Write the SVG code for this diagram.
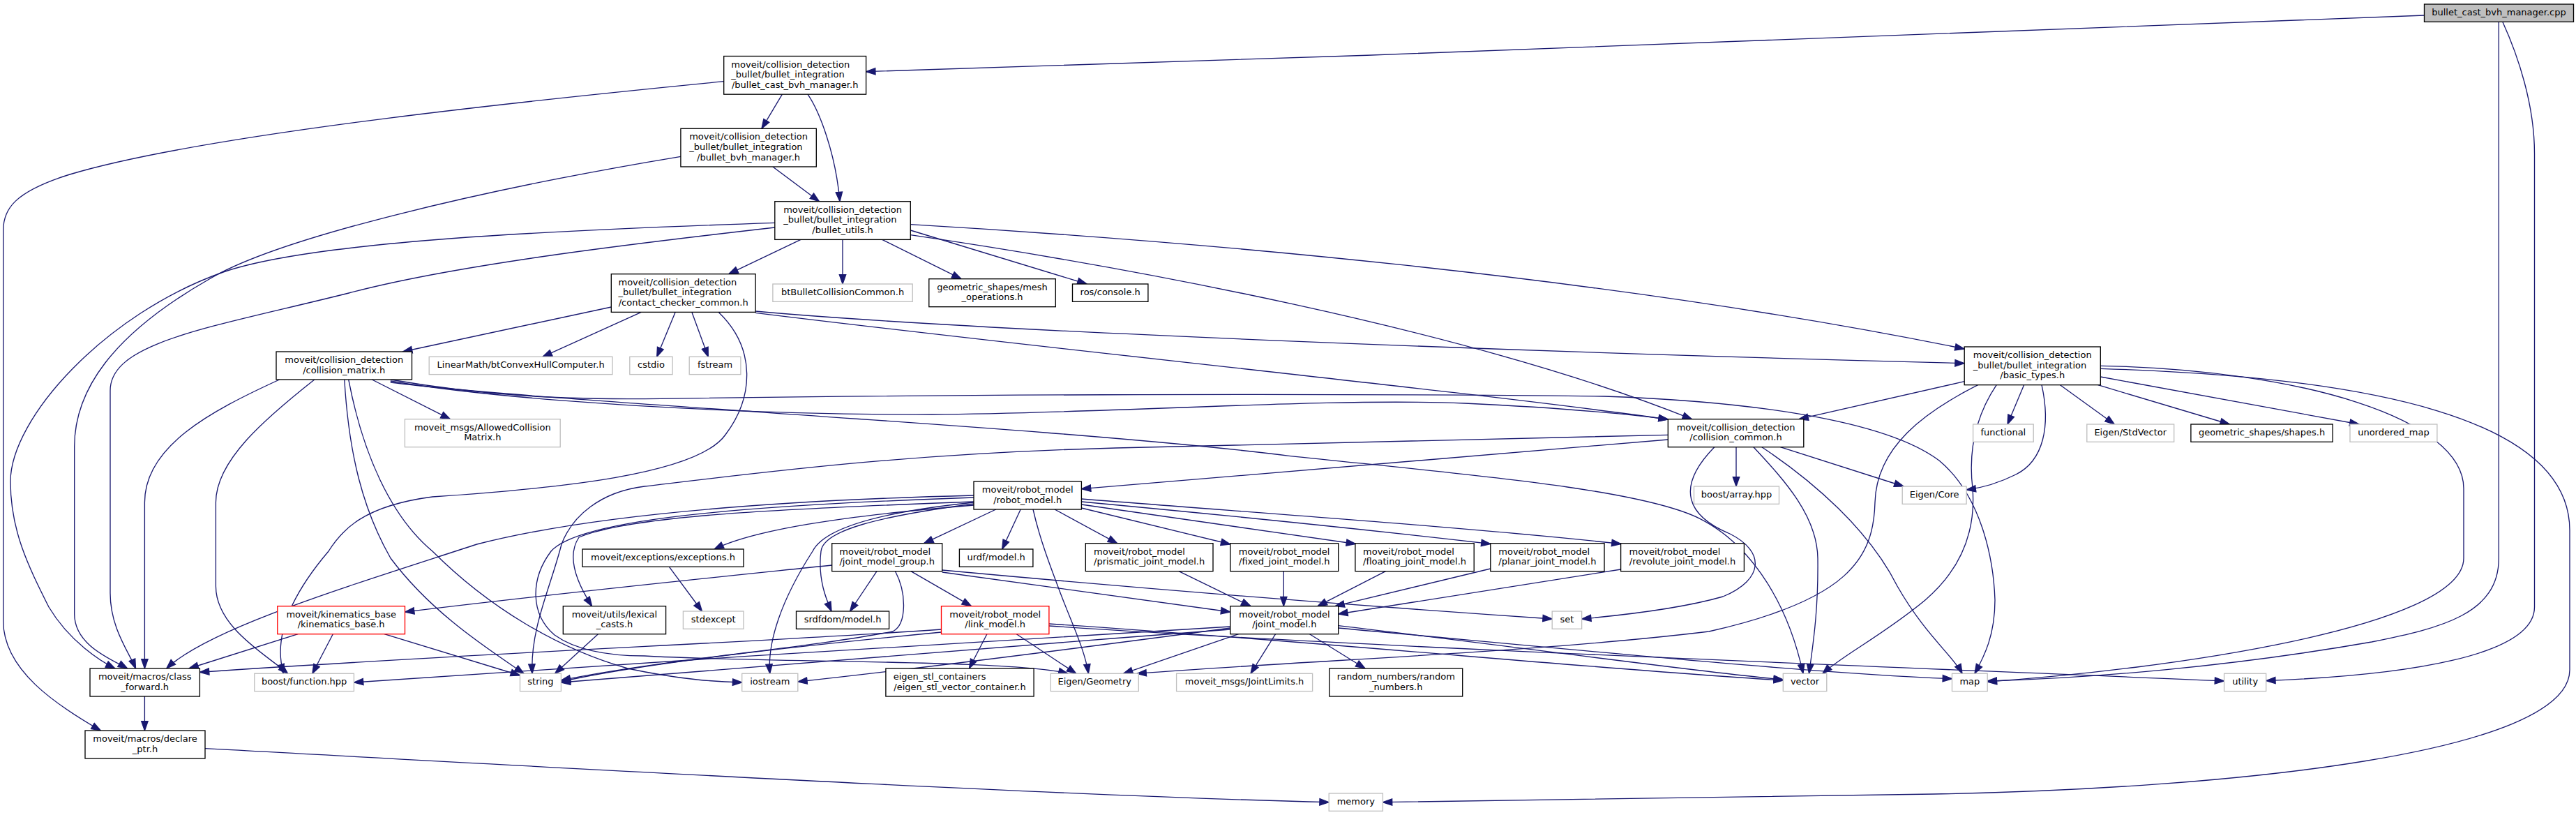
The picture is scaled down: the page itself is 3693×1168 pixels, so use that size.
<svg xmlns="http://www.w3.org/2000/svg" width="3693" height="1168" viewBox="0 0 3693 1168">
<style>
text{font-family:"DejaVu Sans",sans-serif;font-size:13px;fill:#000}
.m{text-anchor:middle}
.node rect{fill:#fff;stroke:#000;stroke-width:1.33}
.ext rect{stroke:#bfbfbf}
.red rect{stroke:#f00}
.root rect{fill:#bfbfbf}
#edges path{fill:none;stroke:#191970;stroke-width:1.33;marker-end:url(#ah)}
</style>
<defs>
<marker id="ah" markerUnits="userSpaceOnUse" markerWidth="16" markerHeight="12" viewBox="-1 -6 16 12" refX="13.3" refY="0" orient="auto"><path d="M0,-4.67 L13.33,0 L0,4.67 Z" fill="#191970" stroke="#191970" stroke-width="1.33"/></marker>
</defs>
<rect width="3693" height="1168" fill="#fff"/>
<g id="edges">
<path d="M3475.5,22 C2900,45 2000,80 1241.6,102.7"/>
<path d="M3582.3,31.3 L3582.3,800 C3582.3,880 3500,900 3400,920 C3200,955 3000,972 2849.2,976"/>
<path d="M3588,31.7 C3610,80 3633.5,150 3633.5,220 L3633.5,870 C3633.5,940 3450,968 3248.7,975.5"/>
<path d="M1121.4,135.2 L1092,184.3"/>
<path d="M1158,135.2 C1175,160 1198,220 1204,288.7"/>
<path d="M1107.9,239 L1174.5,288.7"/>
<path d="M1037.7,116.7 C800,140 300,190 100,250 C20,275 4.7,300 4.7,330 L4.7,890 C4.7,960 80,1010 144.4,1047"/>
<path d="M975.9,224.3 C700,270 400,340 300,400 C160,480 106.7,560 106.7,640 L106.7,880 C106.7,925 160,945 182.7,958"/>
<path d="M1110.8,319.3 C800,330 450,345 320,390 C150,450 15,600 15,690 C15,760 40,810 70,870 C100,920 145,948 165,958"/>
<path d="M1110.8,326 C900,350 650,380 500,420 C300,470 158,490 158,560 L158,850 C158,900 185,935 194.5,958"/>
<path d="M400.7,544 C300,590 207.4,640 207.4,720 L207.4,958"/>
<path d="M450.8,544 C380,600 309.4,660 309.4,720 L309.4,840 C309.4,900 385,940 412.5,965.3"/>
<path d="M493.8,544 C500,650 520,730 560,800 C620,880 700,930 751,965.3"/>
<path d="M499.7,544 C520,650 560,740 620,790 C700,870 800,930 900,958 C980,975 1030,977 1063.7,978"/>
<path d="M533.3,544 L645.3,600.7"/>
<path d="M559.8,544 C700,568 800,571.7 924,571.7 C1300,566 1848,562.7 2300,568 C2500,575 2700,600 2780,660 C2840,710 2858,800 2860,860 C2860,910 2845,940 2831,965.3"/>
<path d="M559.8,546 C750,578 1100,595 1336,594 C1600,592 1900,570 2100,578 C2250,585 2350,595 2391.3,601"/>
<path d="M559.8,548 C800,578 1500,610 1848,653.3 C2100,680 2350,700 2437,743.3 C2500,775 2560,850 2585,965.3"/>
<path d="M1148,343.3 L1044.8,392.7"/>
<path d="M1208,343.3 L1208,407"/>
<path d="M1264.6,343.3 L1378,399.7"/>
<path d="M1305.3,330 L1558,407"/>
<path d="M1305.3,336.7 C1600,380 2100,470 2425.5,600.7"/>
<path d="M1305.3,321.7 C1700,345 2300,395 2816.2,500"/>
<path d="M876.3,440 L577.5,504"/>
<path d="M919.3,447.3 L778,511.3"/>
<path d="M968.2,447.3 L941.7,511.3"/>
<path d="M991.8,447.3 L1015.3,511.3"/>
<path d="M1030,447.3 C1085,500 1080,570 1040,623 C1000,680 800,700 620,712 C520,725 490,760 471,790 C420,850 390,910 406.6,965.3"/>
<path d="M1083.1,446 C1400,475 2200,505 2816.2,520.7"/>
<path d="M1083.1,448.3 C1500,500 2100,560 2391.3,601"/>
<path d="M2816.2,546.7 L2579,600.7"/>
<path d="M2835.6,551.7 C2760,590 2690,640 2688,720 C2686,800 2650,860 2450,905 C2200,935 1900,945 1630,965.3"/>
<path d="M2862.2,551.7 C2830,600 2822,650 2828,700 C2834,780 2795,830 2760,860 C2700,910 2640,940 2613,965.3"/>
<path d="M2927,551.7 C2940,610 2930,660 2890,680 C2860,695 2835,700 2819.1,702"/>
<path d="M2901.6,551.7 L2878,608"/>
<path d="M2953.5,551.7 L3031.3,608"/>
<path d="M3007.7,551.7 L3196.3,608"/>
<path d="M3011.3,540 L3382,608"/>
<path d="M3011.3,524.3 C3300,530 3532,600 3532,700 L3532,800 C3532,900 3100,960 2849.2,977"/>
<path d="M3011.3,528.3 C3400,540 3684,600 3684,760 L3684,960 C3684,1080 3200,1130 2772,1138 C2400,1145 2100,1148 1982.4,1149.7"/>
<path d="M2391.3,630 L1550.4,700.7"/>
<path d="M2391.3,623.3 C2100,630 1850,636 1600,642 C1300,650 1100,676 924,697 C860,705 820,740 805,780 C790,840 760,900 763,965.3"/>
<path d="M2457.8,640.7 C2400,700 2420,740 2480,765 C2530,790 2530,830 2470,855 C2400,875 2300,884 2267.6,887"/>
<path d="M2489,640.7 L2489,697"/>
<path d="M2513.9,640.7 C2560,690 2605,740 2606,800 C2607,880 2598,930 2593.5,965.3"/>
<path d="M2525.8,640.7 C2600,690 2680,760 2720,840 C2760,910 2800,940 2813,965.3"/>
<path d="M2552.3,640.7 L2729,697"/>
<path d="M1427.8,730 L1324.7,778.7"/>
<path d="M1463.2,730 L1436.7,787"/>
<path d="M1481,730 C1490,770 1505,810 1519,846.7 C1535,890 1555,930 1560.4,965.3"/>
<path d="M1512,730 L1601.7,778.7"/>
<path d="M1550.4,728 L1763.8,780"/>
<path d="M1550.4,723 L1943.5,779.5"/>
<path d="M1550.4,719 C1700,733 1900,752 2137,779.5"/>
<path d="M1550.4,715 C1800,735 2100,755 2324,779.5"/>
<path d="M1396,724 C1200,740 1080,760 1024,787"/>
<path d="M1396,719 C1100,730 900,740 830,770 C810,800 830,840 848.6,868.7"/>
<path d="M1396,710 C1000,720 800,750 683.6,780 C500,840 300,900 238.7,958"/>
<path d="M1396,720 C1250,735 1180,760 1165,790 C1120,860 1100,920 1103.7,965.3"/>
<path d="M1396,722 C1260,740 1180,760 1177,790 C1172,830 1185,860 1192,876"/>
<path d="M1396,713 C1050,725 830,745 790,790 C760,830 760,880 795,910 C830,935 880,940 924,940 C1100,950 1450,945 1531,965.3"/>
<path d="M1192.7,810 C1000,830 800,850 580.5,877"/>
<path d="M1257,818.7 L1218.6,876"/>
<path d="M1305.9,818.7 L1392.5,868.7"/>
<path d="M1350.7,820 L1763.8,877"/>
<path d="M1350.7,817 C1600,840 1900,865 2225.2,887"/>
<path d="M1283.5,818.7 C1300,850 1300,895 1280,905 C1150,930 950,945 804.4,975"/>
<path d="M1349.5,902 C1100,920 700,935 286.4,963.3"/>
<path d="M1349.5,906 C1100,930 900,955 804.4,977"/>
<path d="M1414.9,908.7 L1389.5,958"/>
<path d="M1457.3,908.7 L1542.8,965.3"/>
<path d="M1503.9,894 C1900,920 2300,960 2556.3,975"/>
<path d="M1503.9,897 C2000,930 2700,955 3188.6,976"/>
<path d="M1775.6,908.7 L1610.5,965.3"/>
<path d="M1828.6,908.7 L1793,965.3"/>
<path d="M1877.5,908.7 L1957,958"/>
<path d="M1918.7,896.7 C2200,930 2450,965 2556.3,974"/>
<path d="M1918.7,900 C2300,935 2600,965 2798.5,972.7"/>
<path d="M1763.8,900 C1500,935 1300,960 1143.8,977"/>
<path d="M1763.8,898 C1400,920 900,950 507.4,978"/>
<path d="M1763.8,902 C1400,930 1000,960 804.4,978"/>
<path d="M1690,818.7 L1793,868.7"/>
<path d="M1840.3,818.7 L1840.3,868.7"/>
<path d="M1986.5,818.7 L1889,868.7"/>
<path d="M2136.8,815 L1914,868.7"/>
<path d="M2323.6,816 L1918.7,880"/>
<path d="M427.2,908.7 L271,958"/>
<path d="M477.3,908.7 L447.9,965.3"/>
<path d="M551,908.7 L745.5,968"/>
<path d="M857.4,908.7 L795.6,965.3"/>
<path d="M959.4,812.3 L1006.5,876"/>
<path d="M207.4,998 L207.4,1047"/>
<path d="M294,1072.7 C800,1100 1500,1140 1905.2,1149.7"/>
</g>
<g id="n1" class="node root"><rect x="3475.5" y="6" width="214" height="25.33"/><text class="m" x="3582.5" y="22">bullet_cast_bvh_manager.cpp</text></g>
<g id="n2" class="node"><rect x="1037.7" y="80.5" width="203.9" height="54.67"/><text x="1048.35" y="96.5">moveit/collision_detection</text><text x="1048.35" y="111.17">_bullet/bullet_integration</text><text class="m" x="1139.65" y="125.83">/bullet_cast_bvh_manager.h</text></g>
<g id="n3" class="node"><rect x="975.9" y="184.3" width="194.4" height="54.67"/><text x="988.2" y="200.3">moveit/collision_detection</text><text x="988.2" y="214.97">_bullet/bullet_integration</text><text class="m" x="1073.1" y="229.63">/bullet_bvh_manager.h</text></g>
<g id="n4" class="node"><rect x="1110.8" y="288.7" width="194.5" height="54.67"/><text x="1123.15" y="304.7">moveit/collision_detection</text><text x="1123.15" y="319.37">_bullet/bullet_integration</text><text class="m" x="1208.05" y="334.03">/bullet_utils.h</text></g>
<g id="n5" class="node"><rect x="876.3" y="392.7" width="206.8" height="54.67"/><text x="886.5" y="408.7">moveit/collision_detection</text><text x="886.5" y="423.37">_bullet/bullet_integration</text><text class="m" x="979.7" y="438.03">/contact_checker_common.h</text></g>
<g id="n6" class="node"><rect x="396" y="504" width="194.5" height="40"/><text class="m" x="493.25" y="520">moveit/collision_detection</text><text class="m" x="493.25" y="534.67">/collision_matrix.h</text></g>
<g id="n7" class="node ext"><rect x="615.2" y="511.3" width="262.8" height="25.33"/><text class="m" x="746.6" y="527.3">LinearMath/btConvexHullComputer.h</text></g>
<g id="n8" class="node ext"><rect x="902.8" y="511.3" width="61.3" height="25.33"/><text class="m" x="933.45" y="527.3">cstdio</text></g>
<g id="n9" class="node ext"><rect x="988.2" y="511.3" width="73.7" height="25.33"/><text class="m" x="1025.05" y="527.3">fstream</text></g>
<g id="n10" class="node ext"><rect x="1107.9" y="407" width="200.3" height="25.33"/><text class="m" x="1208.05" y="423">btBulletCollisionCommon.h</text></g>
<g id="n11" class="node"><rect x="1331.8" y="399.7" width="181.5" height="40"/><text class="m" x="1422.55" y="415.7">geometric_shapes/mesh</text><text class="m" x="1422.55" y="430.37">_operations.h</text></g>
<g id="n12" class="node"><rect x="1537.5" y="407" width="108.4" height="25.33"/><text class="m" x="1591.7" y="423">ros/console.h</text></g>
<g id="n13" class="node"><rect x="2816.2" y="497" width="195.1" height="54.67"/><text x="2828.85" y="513">moveit/collision_detection</text><text x="2828.85" y="527.67">_bullet/bullet_integration</text><text class="m" x="2913.75" y="542.33">/basic_types.h</text></g>
<g id="n14" class="node"><rect x="2391.3" y="600.7" width="194.5" height="40"/><text class="m" x="2488.55" y="616.7">moveit/collision_detection</text><text class="m" x="2488.55" y="631.37">/collision_common.h</text></g>
<g id="n15" class="node ext"><rect x="580.4" y="600.7" width="222.8" height="40"/><text class="m" x="691.8" y="616.7">moveit_msgs/AllowedCollision</text><text class="m" x="691.8" y="631.37">Matrix.h</text></g>
<g id="n16" class="node ext"><rect x="2828.6" y="608" width="86.6" height="25.33"/><text class="m" x="2871.9" y="624">functional</text></g>
<g id="n17" class="node ext"><rect x="2991.8" y="608" width="124.9" height="25.33"/><text class="m" x="3054.25" y="624">Eigen/StdVector</text></g>
<g id="n18" class="node"><rect x="3140.9" y="608" width="203.3" height="25.33"/><text class="m" x="3242.55" y="624">geometric_shapes/shapes.h</text></g>
<g id="n19" class="node ext"><rect x="3369" y="608" width="124.9" height="25.33"/><text class="m" x="3431.45" y="624">unordered_map</text></g>
<g id="n20" class="node"><rect x="1396" y="690" width="154.4" height="40"/><text class="m" x="1473.2" y="706">moveit/robot_model</text><text class="m" x="1473.2" y="720.67">/robot_model.h</text></g>
<g id="n21" class="node ext"><rect x="2428.5" y="697" width="122" height="25.33"/><text class="m" x="2489.5" y="713">boost/array.hpp</text></g>
<g id="n22" class="node ext"><rect x="2727.2" y="697" width="91.9" height="25.33"/><text class="m" x="2773.15" y="713">Eigen/Core</text></g>
<g id="n23" class="node"><rect x="835" y="787" width="231" height="25.33"/><text class="m" x="950.5" y="803">moveit/exceptions/exceptions.h</text></g>
<g id="n24" class="node"><rect x="1192.7" y="778.7" width="158" height="40"/><text x="1203.3" y="794.7">moveit/robot_model</text><text class="m" x="1271.7" y="809.37">/joint_model_group.h</text></g>
<g id="n25" class="node"><rect x="1375.4" y="787" width="105.5" height="25.33"/><text class="m" x="1428.15" y="803">urdf/model.h</text></g>
<g id="n26" class="node"><rect x="1556.3" y="778.7" width="182.7" height="40"/><text x="1568.05" y="794.7">moveit/robot_model</text><text class="m" x="1647.65" y="809.37">/prismatic_joint_model.h</text></g>
<g id="n27" class="node"><rect x="1763.8" y="778.7" width="154.9" height="40"/><text x="1775.75" y="794.7">moveit/robot_model</text><text class="m" x="1841.25" y="809.37">/fixed_joint_model.h</text></g>
<g id="n28" class="node"><rect x="1942.9" y="778.7" width="170.3" height="40"/><text x="1954.05" y="794.7">moveit/robot_model</text><text class="m" x="2028.05" y="809.37">/floating_joint_model.h</text></g>
<g id="n29" class="node"><rect x="2136.8" y="778.7" width="163.2" height="40"/><text x="2148.3" y="794.7">moveit/robot_model</text><text class="m" x="2218.4" y="809.37">/planar_joint_model.h</text></g>
<g id="n30" class="node"><rect x="2323.6" y="778.7" width="176.8" height="40"/><text x="2335.6" y="794.7">moveit/robot_model</text><text class="m" x="2412" y="809.37">/revolute_joint_model.h</text></g>
<g id="n31" class="node red"><rect x="397.8" y="868.7" width="182.7" height="40"/><text class="m" x="489.15" y="884.7">moveit/kinematics_base</text><text class="m" x="489.15" y="899.37">/kinematics_base.h</text></g>
<g id="n32" class="node"><rect x="807.3" y="868.7" width="147.3" height="40"/><text class="m" x="880.95" y="884.7">moveit/utils/lexical</text><text class="m" x="880.95" y="899.37">_casts.h</text></g>
<g id="n33" class="node ext"><rect x="979.4" y="876" width="86.6" height="25.33"/><text class="m" x="1022.7" y="892">stdexcept</text></g>
<g id="n34" class="node"><rect x="1141.5" y="876" width="133.1" height="25.33"/><text class="m" x="1208.05" y="892">srdfdom/model.h</text></g>
<g id="n35" class="node red"><rect x="1349.5" y="868.7" width="154.4" height="40"/><text class="m" x="1426.7" y="884.7">moveit/robot_model</text><text class="m" x="1426.7" y="899.37">/link_model.h</text></g>
<g id="n36" class="node"><rect x="1763.8" y="868.7" width="154.9" height="40"/><text class="m" x="1841.25" y="884.7">moveit/robot_model</text><text class="m" x="1841.25" y="899.37">/joint_model.h</text></g>
<g id="n37" class="node ext"><rect x="2225.2" y="876" width="42.4" height="25.33"/><text class="m" x="2246.4" y="892">set</text></g>
<g id="n38" class="node"><rect x="129" y="958" width="157.4" height="40"/><text class="m" x="207.7" y="974">moveit/macros/class</text><text class="m" x="207.7" y="988.67">_forward.h</text></g>
<g id="n39" class="node ext"><rect x="364.8" y="965.3" width="142.6" height="25.33"/><text class="m" x="436.1" y="981.3">boost/function.hpp</text></g>
<g id="n40" class="node ext"><rect x="745.5" y="965.3" width="58.9" height="25.33"/><text class="m" x="774.95" y="981.3">string</text></g>
<g id="n41" class="node ext"><rect x="1063.7" y="965.3" width="80.1" height="25.33"/><text class="m" x="1103.75" y="981.3">iostream</text></g>
<g id="n42" class="node"><rect x="1269.9" y="958" width="212.2" height="40"/><text x="1280.7" y="974">eigen_stl_containers</text><text class="m" x="1376" y="988.67">/eigen_stl_vector_container.h</text></g>
<g id="n43" class="node ext"><rect x="1506.2" y="965.3" width="126.1" height="25.33"/><text class="m" x="1569.25" y="981.3">Eigen/Geometry</text></g>
<g id="n44" class="node ext"><rect x="1686.6" y="965.3" width="195" height="25.33"/><text class="m" x="1784.1" y="981.3">moveit_msgs/JointLimits.h</text></g>
<g id="n45" class="node"><rect x="1905.8" y="958" width="190.9" height="40"/><text class="m" x="2001.25" y="974">random_numbers/random</text><text class="m" x="2001.25" y="988.67">_numbers.h</text></g>
<g id="n46" class="node ext"><rect x="2556.3" y="965.3" width="62.5" height="25.33"/><text class="m" x="2587.55" y="981.3">vector</text></g>
<g id="n47" class="node ext"><rect x="2798.5" y="965.3" width="50.7" height="25.33"/><text class="m" x="2823.85" y="981.3">map</text></g>
<g id="n48" class="node ext"><rect x="3188.6" y="965.3" width="60.1" height="25.33"/><text class="m" x="3218.65" y="981.3">utility</text></g>
<g id="n49" class="node"><rect x="122" y="1047" width="172" height="40"/><text class="m" x="208" y="1063">moveit/macros/declare</text><text class="m" x="208" y="1077.67">_ptr.h</text></g>
<g id="n50" class="node ext"><rect x="1905.2" y="1137" width="77.2" height="25.33"/><text class="m" x="1943.8" y="1153">memory</text></g>
</svg>
